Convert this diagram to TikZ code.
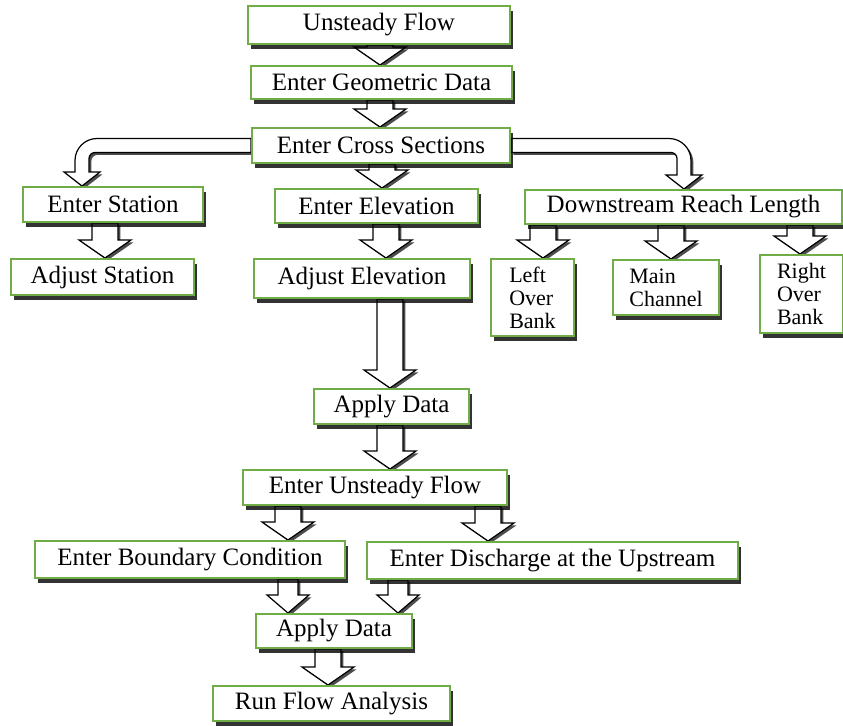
\documentclass[tikz,border=0pt]{standalone}
\usepackage{fontspec}
\setmainfont{Liberation Serif}
\usetikzlibrary{shadows,backgrounds,calc}

\definecolor{boxgreen}{RGB}{112,173,71}

\def\shaftw{6.5pt}
\def\headw{13pt}
\def\headl{9pt}
\def\bshaft{3.5pt}
\def\bhead{9pt}
\def\blen{7pt}

% straight block arrow at x = #1 from #2 down to #3
\newcommand{\flowarrow}[3]{%
  \draw[blockarrow] let \p1=(#1,0 |- #2.south), \p2=(#1,0 |- #3.north) in
    (\x1-\shaftw,\y1) -- (\x1-\shaftw,\y2+\headl) -- (\x1-\headw,\y2+\headl)
    -- (\x2,\y2) -- (\x1+\headw,\y2+\headl) -- (\x1+\shaftw,\y2+\headl)
    -- (\x1+\shaftw,\y1) -- cycle;}

% bent block arrows, out of the side of #2, down to #3 at x = #1
\newcommand{\bentleft}[3]{%
  \draw[blockarrow] let \p1=(#2.west), \p2=(#1,0 |- #3.north) in
    (\x1,\y1+\bshaft) -- (\x2-\bshaft+11pt,\y1+\bshaft)
    arc[start angle=90,end angle=180,radius=11pt]
    -- (\x2-\bshaft,\y2+\blen) -- (\x2-\bhead,\y2+\blen) -- (\x2,\y2)
    -- (\x2+\bhead,\y2+\blen) -- (\x2+\bshaft,\y2+\blen)
    -- (\x2+\bshaft,\y1-\bshaft-3pt) arc[start angle=180,end angle=90,radius=3pt]
    -- (\x1,\y1-\bshaft) -- cycle;}
\newcommand{\bentright}[3]{%
  \draw[blockarrow] let \p1=(#2.east), \p2=(#1,0 |- #3.north) in
    (\x1,\y1+\bshaft) -- (\x2+\bshaft-11pt,\y1+\bshaft)
    arc[start angle=90,end angle=0,radius=11pt]
    -- (\x2+\bshaft,\y2+\blen) -- (\x2+\bhead,\y2+\blen) -- (\x2,\y2)
    -- (\x2-\bhead,\y2+\blen) -- (\x2-\bshaft,\y2+\blen)
    -- (\x2-\bshaft,\y1-\bshaft-3pt) arc[start angle=0,end angle=90,radius=3pt]
    -- (\x1,\y1-\bshaft) -- cycle;}

\begin{document}
\begin{tikzpicture}[x=0.5pt, y=-0.5pt,
  box/.style={draw=boxgreen, line width=1pt, fill=white, inner sep=0pt,
    drop shadow={shadow xshift=1.5pt, shadow yshift=-2.5pt, fill=black, opacity=0.8},
    font=\fontsize{12.5}{15}\selectfont},
  smallbox/.style={box, align=left, font=\fontsize{11}{11.5}\selectfont},
  blockarrow/.style={draw=black, line width=0.6pt, fill=white, line join=miter,
    drop shadow={shadow xshift=1.2pt, shadow yshift=-1.2pt, fill=black, opacity=0.7}}]

\useasboundingbox (0,0) rectangle (843,725);

\node[box, minimum width=131pt, minimum height=19pt] (uf) at (379,25) {Unsteady Flow};
\node[box, minimum width=130.5pt, minimum height=16.5pt] (geo) at (381.5,82.5) {Enter Geometric Data};
\node[box, minimum width=129pt, minimum height=17.5pt] (cross) at (381,145.5) {Enter Cross Sections};

\node[box, minimum width=90pt, minimum height=17.5pt] (est) at (113,204.5) {Enter Station};
\node[box, minimum width=101.5pt, minimum height=17pt] (eel) at (376.5,206) {Enter Elevation};
\node[box, minimum width=158.5pt, minimum height=17pt] (drl) at (683.5,207) {Downstream Reach Length};

\node[box, minimum width=91.5pt, minimum height=18pt] (ast) at (102.5,277) {Adjust Station};
\node[box, minimum width=108pt, minimum height=19.5pt] (ael) at (362,278.5) {Adjust Elevation};
\node[smallbox, minimum width=41.5pt, minimum height=38.5pt] (lob) at (532.5,297.5) {Left\\Over\\Bank};
\node[smallbox, minimum width=53pt, minimum height=27.5pt] (mch) at (666,287.5) {Main\\Channel};
\node[smallbox, minimum width=41.5pt, minimum height=39pt] (rob) at (801.5,294) {Right\\Over\\Bank};

\node[box, minimum width=77.5pt, minimum height=17.5pt] (ad1) at (391.5,406.5) {Apply Data};
\node[box, minimum width=132pt, minimum height=17.5pt] (euf) at (375,487.5) {Enter Unsteady Flow};
\node[box, minimum width=155pt, minimum height=18.5pt] (ebc) at (190,559.5) {Enter Boundary Condition};
\node[box, minimum width=185.5pt, minimum height=18.5pt] (eds) at (552.5,560.5) {Enter Discharge at the Upstream};
\node[box, minimum width=78pt, minimum height=17pt] (ad2) at (334,631) {Apply Data};
\node[box, minimum width=118.5pt, minimum height=17.5pt] (rfa) at (331.5,703.5) {Run Flow Analysis};

\begin{pgfonlayer}{background}
\foreach \px/\a/\b in {380/uf/geo, 380/geo/cross, 382/cross/eel, 105/est/ast,
    386/eel/ael, 390/ael/ad1, 543/drl/lob, 671/drl/mch, 800/drl/rob,
    390/ad1/euf, 288/euf/ebc, 488/euf/eds, 328/ad2/rfa}
  \flowarrow{\px}{\a}{\b};

\begin{scope}
\def\shaftw{5pt}
\def\headw{10.5pt}
\flowarrow{288}{ebc}{ad2}
\flowarrow{398}{eds}{ad2}
\end{scope}

\bentleft{82}{cross}{est}
\bentright{684}{cross}{drl}
\end{pgfonlayer}

\end{tikzpicture}
\end{document}
